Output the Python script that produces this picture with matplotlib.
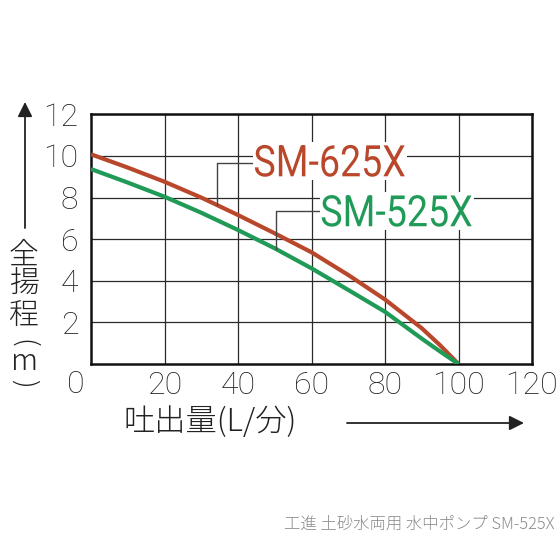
import matplotlib
matplotlib.use("Agg")
import matplotlib.pyplot as plt
from matplotlib.textpath import TextPath
from matplotlib.patches import PathPatch, Rectangle
from matplotlib.font_manager import FontProperties
from matplotlib.transforms import Affine2D

plt.rcParams['font.family'] = ['Noto Sans CJK JP', 'DejaVu Sans']

# flow (L/min) vs total head (m)
flow = [0, 10, 20, 30, 40, 50, 60, 70, 80, 90, 95, 100]
head_625 = [10.08, 9.44, 8.76, 8.0, 7.16, 6.28, 5.37, 4.28, 3.1, 1.72, 0.9, 0]
head_525 = [9.37, 8.72, 8.04, 7.27, 6.44, 5.56, 4.6, 3.56, 2.51, 1.22, 0.6, 0]

xticks = [20, 40, 60, 80, 100, 120]
yticks = [2, 4, 6, 8, 10, 12]

red = '#b9472b'
green = '#1f9a57'
ink = '#222222'

fig = plt.figure(figsize=(5.6, 5.38), dpi=100)
ax = fig.add_axes([0.1625, 0.3234, 0.7875, 0.4641])

ax.plot(flow, head_625, color=red, lw=3, zorder=3, solid_capstyle='butt')
ax.plot(flow, head_525, color=green, lw=3, zorder=3, solid_capstyle='butt')

ax.set_xlim(0, 120)
ax.set_ylim(0, 12)
ax.set_xticks(xticks)
ax.set_yticks(yticks)
ax.grid(True, color='#2a2a2a', lw=0.9)
ax.set_axisbelow(True)
for s in ax.spines.values():
    s.set_linewidth(1.8)
    s.set_color('#111111')
ax.tick_params(length=0, labelsize=23, colors=ink)
ax.tick_params(axis='y', pad=9)
ax.tick_params(axis='x', pad=5)
for lab in ax.get_xticklabels() + ax.get_yticklabels():
    lab.set_fontfamily(['Roboto', 'DejaVu Sans'])
    lab.set_fontweight('light')
ax.text(-4.1, -0.3, '0', ha='center', va='top', fontsize=23, color=ink,
        family=['Roboto', 'DejaVu Sans'], fontweight='light')


def narrow_label(s, x0, x1, ybase, ytop, color):
    # draw text squeezed into a box given in data units (condensed look)
    tp = TextPath((0, 0), s, size=100, prop=FontProperties(family='Roboto'))
    bb = tp.get_extents()
    (px0, py0), (px1, py1) = ax.transData.transform([(x0, ybase), (x1, ytop)])
    sx = (px1 - px0) / bb.width
    sy = (py1 - py0) / bb.height
    tr = Affine2D().translate(-bb.x0, -bb.y0).scale(sx, sy).translate(px0, py0)
    ax.add_patch(Rectangle((x0 - 0.6, ybase - 0.15), x1 - x0 + 1.2, ytop - ybase + 0.3,
                           facecolor='white', edgecolor='none', zorder=4))
    p = PathPatch(tp, transform=tr, facecolor=color, edgecolor='none', zorder=5)
    ax.add_artist(p)


# leader lines + model labels
ax.plot([34.2, 34.2, 44.0], [7.64, 9.68, 9.68], color='#444444', lw=1.0, zorder=4)
ax.plot([50.3, 50.3, 62.0], [5.51, 7.37, 7.37], color='#444444', lw=1.0, zorder=4)
narrow_label('SM-625X', 44.6, 85.4, 9.0, 10.53, red)
narrow_label('SM-525X', 62.8, 103.6, 6.6, 8.12, green)

# y axis title, stacked vertically, with arrow
ytitle = ['全', '揚', '程', '(', 'm', ')']
yrot = [0, 0, 0, -90, 0, -90]
ysize = [21.5, 21.5, 21.5, 20, 21.5, 20]
ypos = [255, 285, 316, 343, 362, 383]
for ch, r, fs, yp in zip(ytitle, yrot, ysize, ypos):
    fig.text(24 / 560, 1 - yp / 538, ch, ha='center', va='center', fontsize=fs,
             rotation=r, color=ink, fontweight='light')
ax.annotate('', xy=(25 / 560, 1 - 102 / 538), xytext=(25 / 560, 1 - 228 / 538),
            xycoords='figure fraction', textcoords='figure fraction',
            arrowprops=dict(arrowstyle='-|>', color=ink, lw=1.3,
                            mutation_scale=22, shrinkA=0, shrinkB=0))

# x axis title with arrow
fig.text(124 / 560, 1 - 422 / 538, '吐出量(L/分)', ha='left', va='center',
         fontsize=22.5, color=ink, fontweight='light')
ax.annotate('', xy=(524 / 560, 1 - 423 / 538), xytext=(347 / 560, 1 - 423 / 538),
            xycoords='figure fraction', textcoords='figure fraction',
            arrowprops=dict(arrowstyle='-|>', color=ink, lw=1.3,
                            mutation_scale=22, shrinkA=0, shrinkB=0))

fig.text(555 / 560, 1 - 524 / 538, '工進 土砂水両用 水中ポンプ SM-525X', ha='right',
         va='center', fontsize=11.8, color='#8a8a8a', fontweight='light')

fig.savefig('out.png', dpi=100)
